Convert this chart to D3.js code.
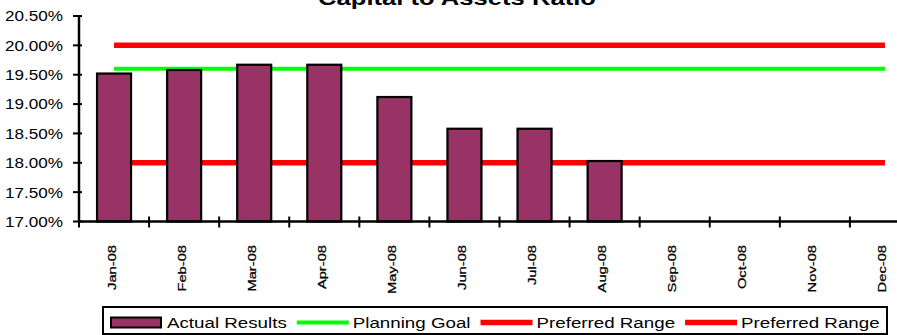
<!DOCTYPE html>
<html>
<head>
<meta charset="utf-8">
<script src="https://cdn.jsdelivr.net/npm/d3@7"></script>
<style>
  html, body { margin: 0; padding: 0; background: #fff; }
  svg { display: block; font-family: "Liberation Sans", Arial, sans-serif; }
</style>
</head>
<body>
<svg id="chart" width="897" height="335"></svg>
<script>
// Capital to Assets Ratio, monthly 2008 (values in percent)
const months = ["Jan-08", "Feb-08", "Mar-08", "Apr-08", "May-08", "Jun-08",
                "Jul-08", "Aug-08", "Sep-08", "Oct-08", "Nov-08", "Dec-08"];
const actualResults = [19.52, 19.58, 19.67, 19.67, 19.12, 18.58, 18.58, 18.03,
                       null, null, null, null];
const planningGoal = [19.6, 19.6, 19.6, 19.6, 19.6, 19.6, 19.6, 19.6, 19.6, 19.6, 19.6, 19.6];
const preferredHigh = [20, 20, 20, 20, 20, 20, 20, 20, 20, 20, 20, 20];
const preferredLow = [18, 18, 18, 18, 18, 18, 18, 18, 18, 18, 18, 18];
const yTicks = [17, 17.5, 18, 18.5, 19, 19.5, 20, 20.5];
const legendItems = [
  { label: "Actual Results", kind: "bar", color: "#993366" },
  { label: "Planning Goal", kind: "line", color: "#00ff00", width: 4 },
  { label: "Preferred Range", kind: "line", color: "#ff0000", width: 5.5 },
  { label: "Preferred Range", kind: "line", color: "#ff0000", width: 5.5 }
];

const svg = d3.select("#chart");
const plotLeft = 79, plotRight = 920, plotTop = 16, plotBottom = 221.5;

const x = d3.scaleBand().domain(months).range([plotLeft, plotRight]).padding(0);
const y = d3.scaleLinear().domain([17, 20.5]).range([plotBottom, plotTop]);
const cx = m => x(m) + x.bandwidth() / 2;

// Title
svg.append("text")
  .attr("transform", `translate(457,5) scale(1.28,1)`)
  .attr("text-anchor", "middle")
  .attr("font-size", 20)
  .attr("font-weight", "bold")
  .attr("fill", "#000")
  .text("Capital to Assets Ratio");

// Reference lines (drawn beneath bars)
const line = d3.line().x((d, i) => cx(months[i])).y(d => y(d));
[[preferredHigh, "#ff0000", 5.5], [planningGoal, "#00ff00", 4], [preferredLow, "#ff0000", 5.5]]
  .forEach(([vals, color, w]) => {
    svg.append("path")
      .datum(vals)
      .attr("d", line)
      .attr("fill", "none")
      .attr("stroke", color)
      .attr("stroke-width", w);
  });

// Bars
const barW = 34;
svg.append("g").selectAll("rect")
  .data(months.map((m, i) => ({ m, v: actualResults[i] })).filter(d => d.v != null))
  .join("rect")
  .attr("x", d => cx(d.m) - barW / 2)
  .attr("y", d => y(d.v))
  .attr("width", barW)
  .attr("height", d => y(17) - y(d.v))
  .attr("fill", "#993366")
  .attr("stroke", "#000")
  .attr("stroke-width", 2.2);

// Y axis
const yAxis = svg.append("g").attr("transform", `translate(${plotLeft},0)`);
yAxis.append("line")
  .attr("x1", 0).attr("x2", 0)
  .attr("y1", y(20.5)).attr("y2", y(17) + 1)
  .attr("stroke", "#000").attr("stroke-width", 2.5);
yTicks.forEach(t => {
  yAxis.append("line")
    .attr("x1", -6).attr("x2", 3)
    .attr("y1", y(t)).attr("y2", y(t))
    .attr("stroke", "#000").attr("stroke-width", 2);
  yAxis.append("text")
    .attr("transform", `translate(-16,${y(t)}) scale(1.14,1)`)
    .attr("text-anchor", "end")
    .attr("dy", "0.36em")
    .attr("font-size", 15)
    .attr("fill", "#000")
    .text(d3.format(".2f")(t) + "%");
});

// X axis
const xAxis = svg.append("g");
xAxis.append("line")
  .attr("x1", plotLeft).attr("x2", 897)
  .attr("y1", plotBottom).attr("y2", plotBottom)
  .attr("stroke", "#000").attr("stroke-width", 2.5);
months.forEach(m => {
  xAxis.append("line")
    .attr("x1", x(m)).attr("x2", x(m))
    .attr("y1", plotBottom - 5).attr("y2", plotBottom + 6)
    .attr("stroke", "#000").attr("stroke-width", 2);
  xAxis.append("text")
    .attr("transform", `translate(${cx(m) + 1.5},245) rotate(-90) scale(1.28,1)`)
    .attr("text-anchor", "end")
    .attr("font-size", 11.5)
    .attr("fill", "#000")
    .attr("stroke", "#000")
    .attr("stroke-width", 0.25)
    .text(m);
});

// Legend
const legend = svg.append("g");
legend.append("rect")
  .attr("x", 103).attr("y", 307)
  .attr("width", 784).attr("height", 27)
  .attr("fill", "#fff")
  .attr("stroke", "#000").attr("stroke-width", 2);
let lx = 111;
const ly = 322.5;
const textScale = 1.25;
legendItems.forEach(item => {
  if (item.kind === "bar") {
    legend.append("rect")
      .attr("x", lx).attr("y", ly - 5)
      .attr("width", 50).attr("height", 10)
      .attr("fill", item.color)
      .attr("stroke", "#000").attr("stroke-width", 2);
  } else {
    legend.append("line")
      .attr("x1", lx).attr("x2", lx + 52)
      .attr("y1", ly).attr("y2", ly)
      .attr("stroke", item.color).attr("stroke-width", item.width);
  }
  lx += 56;
  const t = legend.append("text")
    .attr("transform", `translate(${lx},${ly + 5.5}) scale(${textScale},1)`)
    .attr("font-size", 15)
    .attr("fill", "#000")
    .text(item.label);
  lx += t.node().getComputedTextLength() * textScale + 10;
});
</script>
</body>
</html>
